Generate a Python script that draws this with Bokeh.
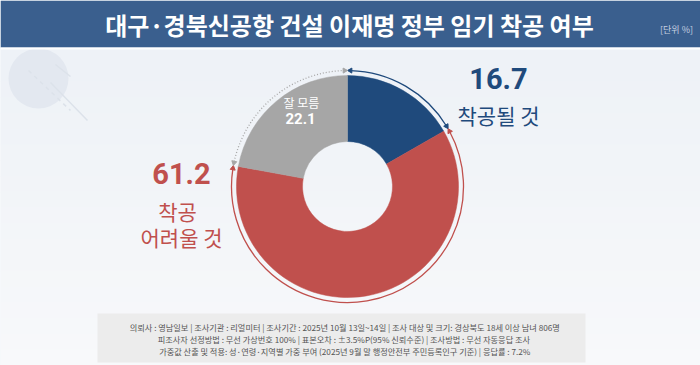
import numpy as np
from bokeh.plotting import figure
from bokeh.models import Range1d, ColumnDataSource
from bokeh.core.properties import value
from bokeh.embed import file_html
from bokeh.resources import INLINE

# ---- data ----
categories = ["착공될 것", "착공 어려울 것", "잘 모름"]
values = [16.7, 61.2, 22.1]
colors = ["#1F4A7C", "#C0504D", "#A6A6A6"]
arc_colors = ["#1F4A7C", "#C0504D", "#A6A6A6"]
arc_dashes = ["solid", "solid", "1 2"]

title = "대구·경북신공항 건설 이재명 정부 임기 착공 여부"
unit_label = "[단위 %]"
footer_lines = [
    "의뢰사 : 영남일보  | 조사기관 : 리얼미터  | 조사기간 : 2025년 10월 13일~14일 | 조사 대상 및 크기: 경상북도  18세 이상 남녀 806명",
    "피조사자  선정방법 : 무선 가상번호  100% | 표본오차  : ±3.5%P(95%  신뢰수준) | 조사방법 : 무선 자동응답  조사",
    "가중값 산출 및 적용: 성·연령·지역별  가중 부여 (2025년 9월 말 행정안전부  주민등록인구  기준) | 응답률 : 7.2%",
]

FONT = value("Noto Sans CJK KR")
H = 365


def Y(y):
    return H - y


p = figure(width=700, height=365, x_range=Range1d(0, 700), y_range=Range1d(0, 365),
           output_backend="svg", toolbar_location=None, min_border=0,
           x_axis_location=None, y_axis_location=None)
p.grid.visible = False
p.outline_line_color = None
p.background_fill_color = "#EEF2F7"
p.border_fill_color = "#EEF2F7"

# background gradient bands
n = 20
for i in range(n):
    t = i / (n - 1)
    r = int(0xEE + (0xF8 - 0xEE) * t)
    g = int(0xF2 + (0xF9 - 0xF2) * t)
    b = int(0xF7 + (0xFB - 0xF7) * t)
    y0 = 49 + (365 - 49) * i / n
    y1 = 49 + (365 - 49) * (i + 1) / n + 1
    p.quad(left=0, right=700, top=Y(y0), bottom=Y(y1), fill_color="#%02X%02X%02X" % (r, g, b), line_color=None)

# decorative circle
p.circle(x=38, y=Y(78), radius=30, fill_color="#E3E8F0", line_color=None)
p.line(x=[55, 70], y=[Y(64), Y(76)], line_color="#DCE2EA", line_width=1.5)
p.line(x=[50, 87], y=[Y(82), Y(120)], line_color="#DCE2EA", line_width=1.5)
p.line(x=[28, 70], y=[Y(70), Y(110)], line_color="#DCE2EA", line_width=1.5, line_dash="4 4")

# header
p.quad(left=0, right=700, top=Y(0), bottom=Y(47), fill_color="#3A5F8E", line_color=None)
p.quad(left=0, right=700, top=Y(47), bottom=Y(49), fill_color="#FFFFFF", line_color=None)
p.text(x=[349], y=[Y(24)], text=[title], text_color="white", text_font=FONT,
       text_font_size="24px", text_font_style="bold", text_align="center", text_baseline="middle")
p.text(x=[676], y=[Y(29)], text=[unit_label], text_color="#C5D0E0", text_font=FONT,
       text_font_size="9px", text_align="center", text_baseline="middle")

# donut
cx, cy = 347, Y(186)
vals = np.array(values)
cum = np.concatenate([[0], np.cumsum(vals)]) / vals.sum()
start = np.pi / 2 - 2 * np.pi * cum[1:]
end = np.pi / 2 - 2 * np.pi * cum[:-1]
src = ColumnDataSource(dict(start=start, end=end, color=colors, cat=categories))
p.annular_wedge(x=cx, y=cy, inner_radius=45, outer_radius=111, start_angle="start", end_angle="end",
                fill_color="color", line_color="color", line_width=0.5, source=src)

# outer arcs with arrowheads
R = 116
gap = 0.025
for s, e, c, d in zip(start, end, arc_colors, arc_dashes):
    a0, a1 = s + gap, e - gap
    p.arc(x=cx, y=cy, radius=R, start_angle=a0, end_angle=a1, line_color=c, line_width=1.3, line_dash=d)
    xs = [cx + R * np.cos(a0), cx + R * np.cos(a1)]
    ys = [cy + R * np.sin(a0), cy + R * np.sin(a1)]
    angs = [a0 - np.pi, a1]
    p.scatter(x=xs, y=ys, marker="triangle", size=5, angle=angs, fill_color=c, line_color=c)

# labels
blue, red = colors[0], colors[1]
p.text(x=[498], y=[Y(78)], text=["%.1f" % values[0]], text_color=blue, text_font=value("Roboto"),
       text_font_size="29px", text_font_style="bold", text_align="center", text_baseline="middle")
p.text(x=[498], y=[Y(114)], text=[categories[0]], text_color=blue, text_font=FONT,
       text_font_size="21px", text_align="center", text_baseline="middle")
p.text(x=[181], y=[Y(173)], text=["%.1f" % values[1]], text_color=red, text_font=value("Roboto"),
       text_font_size="29px", text_font_style="bold", text_align="center", text_baseline="middle")
p.text(x=[177, 181], y=[Y(210), Y(236)], text=["착공", "어려울 것"], text_color=red, text_font=FONT,
       text_font_size="21px", text_align="center", text_baseline="middle")
p.text(x=[301], y=[Y(102)], text=[categories[2]], text_color="white", text_font=FONT,
       text_font_size="12px", text_align="center", text_baseline="middle")
p.text(x=[300], y=[Y(118)], text=["%.1f" % values[2]], text_color="white", text_font=value("Roboto"),
       text_font_size="15px", text_font_style="bold", text_align="center", text_baseline="middle")

# footer
p.quad(left=97, right=585, top=Y(313), bottom=Y(362), fill_color="#ECECEC", line_color=None)
p.text(x=[347, 348, 347], y=[Y(326), Y(338), Y(350)], text=footer_lines, text_color="#555555",
       text_font=FONT, text_font_size="8.2px", text_align="center", text_baseline="middle")

open("out.html", "w").write(file_html(p, INLINE))
